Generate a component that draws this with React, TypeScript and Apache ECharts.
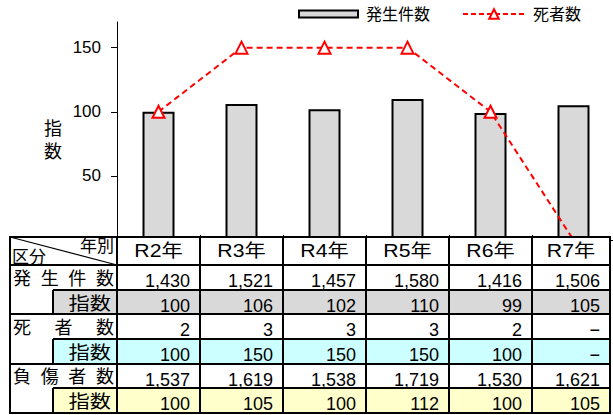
import React, { useEffect, useRef } from 'react';
import * as echarts from 'echarts';

// ---- data ----
const categories = ['R2年', 'R3年', 'R4年', 'R5年', 'R6年', 'R7年'];
const incidents = [1430, 1521, 1457, 1580, 1416, 1506];
const incidentIndex = [100, 106, 102, 110, 99, 105];
const deaths: (number | null)[] = [2, 3, 3, 3, 2, null];
const deathIndex: (number | null)[] = [100, 150, 150, 150, 100, null];
const injured = [1537, 1619, 1538, 1719, 1530, 1621];
const injuredIndex = [100, 105, 100, 112, 100, 105];
const yTickValues = [50, 100, 150];
const legendNames = ['発生件数', '死者数'];
const rowLabels = ['発生件数', '死者数', '負傷者数'];
const indexLabel = '指数';
const headerLeft = '区分';
const headerRight = '年別';
const yAxisTitle = ['指', '数'];
const missingMark = '−';

// ---- layout (table) ----
const FONT = '"Liberation Sans", "Noto Sans CJK JP", sans-serif';
const rowY = [237, 265, 290, 314, 339, 364, 388, 413];
const colX = [10, 117, 200, 283, 366, 449, 532, 610];
const subX = 53;
const indexFills = ['#d9d9d9', '#ccffff', '#ffffcc'];
const Z = 100;

function txt(text: string, x: number, y: number, size: number, align: string, extra: any = {}) {
  return {
    type: 'text',
    x,
    y,
    z: Z + 2,
    silent: true,
    ...extra,
    style: {
      text,
      fontSize: size,
      fontFamily: FONT,
      fill: '#000',
      align,
      verticalAlign: 'middle',
      textAlign: align,
      textVerticalAlign: 'middle',
    },
  };
}
function ln(x1: number, y1: number, x2: number, y2: number, w = 2) {
  return {
    type: 'line',
    z: Z + 1,
    silent: true,
    shape: { x1, y1, x2, y2 },
    style: { stroke: '#000', lineWidth: w },
  };
}
function rc(x: number, y: number, w: number, h: number, fill: string) {
  return {
    type: 'rect',
    z: Z,
    silent: true,
    shape: { x, y, width: w, height: h },
    style: { fill, stroke: 'none' },
  };
}
function spread(label: string, x0: number, x1: number, y: number, size: number) {
  const chars = Array.from(label);
  const step = chars.length > 1 ? (x1 - x0 - size) / (chars.length - 1) : 0;
  return chars.map((c, i) => txt(c, x0 + i * step, y, size, 'left'));
}
const fmt = (v: number | null) => (v === null ? missingMark : v.toLocaleString('en-US'));

function buildTable() {
  const els: any[] = [];
  const left = colX[0];
  const right = colX[colX.length - 1];
  els.push(rc(left, rowY[0], right - left, rowY[rowY.length - 1] - rowY[0], '#ffffff'));
  // index row fills
  for (let g = 0; g < 3; g++) {
    els.push(rc(subX, rowY[2 + 2 * g], right - subX, rowY[3 + 2 * g] - rowY[2 + 2 * g], indexFills[g]));
  }
  // horizontal lines
  els.push(ln(left - 1, rowY[0], right + 1, rowY[0]));
  els.push(ln(left - 1, rowY[7], right + 1, rowY[7]));
  [1, 3, 5].forEach((i) => els.push(ln(left, rowY[i], right, rowY[i])));
  [2, 4, 6].forEach((i) => els.push(ln(subX, rowY[i], right, rowY[i])));
  // vertical lines
  colX.forEach((x) => els.push(ln(x, rowY[0], x, rowY[7])));
  for (let g = 0; g < 3; g++) els.push(ln(subX, rowY[2 + 2 * g], subX, rowY[3 + 2 * g]));
  // diagonal
  els.push(ln(left, rowY[0], colX[1], rowY[1], 1.2));
  // header texts
  els.push(txt(headerLeft, 12, 257, 17, 'left'));
  els.push(txt(headerRight, 114, 246, 17, 'right'));
  const hc = (rowY[0] + rowY[1]) / 2;
  categories.forEach((c, i) => {
    const cx = (colX[i + 1] + colX[i + 2]) / 2;
    els.push(txt(c, cx, hc, 18, 'center', { scaleX: 1.18 }));
  });
  // data rows
  const groups = [
    [incidents, incidentIndex],
    [deaths, deathIndex],
    [injured, injuredIndex],
  ];
  groups.forEach((grp, g) => {
    const mainC = (rowY[1 + 2 * g] + rowY[2 + 2 * g]) / 2;
    const idxC = (rowY[2 + 2 * g] + rowY[3 + 2 * g]) / 2;
    els.push(...spread(rowLabels[g], 13, 114, mainC + 1, 18));
    els.push(txt(indexLabel, 111, idxC + 1.5, 18, 'right', { scaleX: 1.18 }));
    categories.forEach((_, i) => {
      const rx = colX[i + 2] - 10;
      els.push(txt(fmt(grp[0][i] as any), rx, mainC + 3.5, 18, 'right'));
      els.push(txt(fmt(grp[1][i] as any), rx, idxC + 3.5, 18, 'right'));
    });
  });
  // y-axis title
  els.push(txt(yAxisTitle[0], 53, 128.5, 18, 'center'));
  els.push(txt(yAxisTitle[1], 53, 151.5, 18, 'center'));
  return els;
}

export default function App() {
  const ref = useRef<HTMLDivElement>(null);
  useEffect(() => {
    document.body.style.margin = '0';
    const chart = echarts.init(ref.current!, null, { renderer: 'svg' });
    const lineData = deathIndex.map((v) => (v === null ? { value: 0, symbol: 'none' } : v));
    chart.setOption({
      animation: false,
      backgroundColor: '#ffffff',
      textStyle: { fontFamily: FONT },
      grid: { left: 117, right: -2, top: 22, bottom: 175, containLabel: false, outerBoundsMode: 'none' },
      legend: [
        {
          data: [legendNames[0]],
          left: 298,
          top: 6,
          padding: 0,
          itemWidth: 59,
          itemHeight: 7,
          icon: 'rect',
          selectedMode: false,
          textStyle: { fontSize: 16, fontFamily: FONT, color: '#000', padding: [0, 0, 0, 3] },
        },
        {
          data: [legendNames[1]],
          left: 462,
          top: 6,
          padding: 0,
          itemWidth: 62,
          itemHeight: 12,
          selectedMode: false,
          lineStyle: { type: [5, 3], width: 2 },
          textStyle: { fontSize: 16, fontFamily: FONT, color: '#000', padding: [0, 0, 0, 3] },
        },
      ],
      xAxis: {
        type: 'category',
        data: categories,
        axisLine: { show: true, lineStyle: { color: '#000', width: 1 } },
        axisTick: { show: true, inside: true, length: 5, lineStyle: { color: '#000' } },
        axisLabel: { show: false },
        splitLine: { show: false },
      },
      yAxis: {
        type: 'value',
        min: 0,
        max: 170,
        axisLine: { show: true, lineStyle: { color: '#000', width: 1 } },
        axisTick: { show: true, length: 6, customValues: yTickValues, lineStyle: { color: '#000' } },
        axisLabel: { customValues: yTickValues, fontSize: 17, color: '#000', margin: 16, fontFamily: FONT },
        splitLine: { show: false },
      },
      series: [
        {
          name: legendNames[0],
          type: 'bar',
          data: incidentIndex,
          barWidth: 32,
          itemStyle: { color: '#d9d9d9', borderColor: '#000', borderWidth: 2 },
          z: 2,
        },
        {
          name: legendNames[1],
          type: 'line',
          data: lineData,
          symbol: 'triangle',
          symbolSize: 12,
          lineStyle: { color: '#ff0000', width: 2, type: [6, 4] },
          itemStyle: { color: '#ffffff', borderColor: '#ff0000', borderWidth: 2 },
          z: 3,
        },
      ],
      graphic: { elements: buildTable() },
    });
    return () => chart.dispose();
  }, []);
  return <div ref={ref} style={{ position: 'fixed', left: 0, top: 0, width: 613, height: 415 }} />;
}
